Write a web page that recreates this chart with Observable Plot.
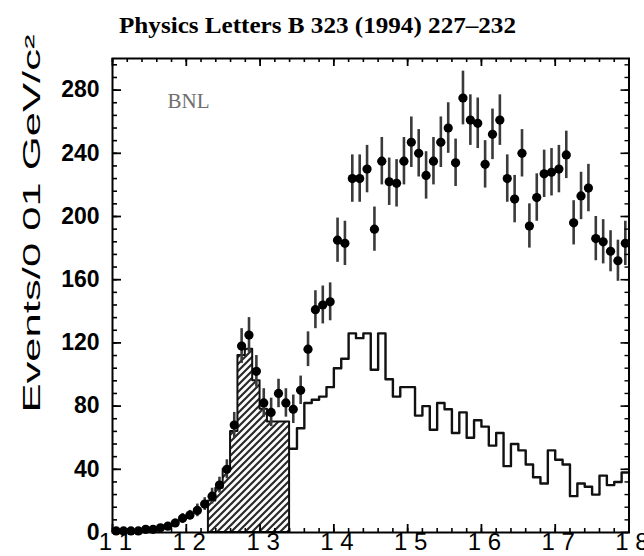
<!DOCTYPE html>
<html>
<head>
<meta charset="utf-8">
<script src="https://cdn.jsdelivr.net/npm/d3@7"></script>
<script src="https://cdn.jsdelivr.net/npm/@observablehq/plot@0.6"></script>
<style>
  html, body { margin: 0; padding: 0; background: #fff; }
  #chart svg { display: block; }
</style>
</head>
<body>
<div id="chart"></div>
<script>
// Invariant mass bins (GeV/c^2), bin centres, 0.01 GeV wide
const masses = [
  1.105, 1.115, 1.125, 1.135, 1.145, 1.155, 1.165, 1.175, 1.185, 1.195,
  1.205, 1.215, 1.225, 1.235, 1.245, 1.255, 1.265, 1.275, 1.285, 1.295,
  1.305, 1.315, 1.325, 1.335, 1.345, 1.355, 1.365, 1.375, 1.385, 1.395,
  1.405, 1.415, 1.425, 1.435, 1.445, 1.455, 1.465, 1.475, 1.485, 1.495,
  1.505, 1.515, 1.525, 1.535, 1.545, 1.555, 1.565, 1.575, 1.585, 1.595,
  1.605, 1.615, 1.625, 1.635, 1.645, 1.655, 1.665, 1.675, 1.685, 1.695,
  1.705, 1.715, 1.725, 1.735, 1.745, 1.755, 1.765, 1.775, 1.785, 1.795
];
// Measured events per bin
const events = [
    1,   1,   1,   1,   2,   2,   3,   4,   6,   9,
   11,  14,  18,  23,  30,  40,  68, 118, 125, 102,
   82,  76,  88,  82,  78,  90, 116, 141, 144, 146,
  185, 183, 224, 224, 230, 192, 235, 222, 221, 235,
  247, 240, 226, 235, 247, 256, 234, 275, 261, 259,
  233, 252, 261, 224, 211, 240, 194, 212, 227, 228,
  230, 239, 196, 213, 218, 186, 184, 178, 172, 183
];
// Statistical error per bin
const errors = [
    1,   1,   1,   1, 1.5, 1.5,   2,   2, 2.5,   3,
    3,   4,   4,   5,   5,   6,   8,  11,  11,  10,
    9,   9,   9,   9,   9,   9,  11,  12,  12,  12,
   14,  14,  15,  15,  15,  14,  15,  15,  15,  15,
   16,  15,  15,  15,  16,  16,  15,  17,  16,  16,
   15,  16,  16,  15,  15,  15,  14,  15,  15,  15,
   15,  15,  14,  15,  15,  14,  14,  13,  13,  14
];

// Shaded histogram (1.23 - 1.34 GeV)
const shadedMasses = [1.235, 1.245, 1.255, 1.265, 1.275, 1.285, 1.295, 1.305, 1.315, 1.325, 1.335];
const shadedCounts = [20, 28, 40, 64, 112, 116, 96, 78, 70, 70, 70];

// Open histogram (1.34 - 1.80 GeV)
const openMasses = [
  1.345, 1.355, 1.365, 1.375, 1.385, 1.395, 1.405, 1.415, 1.425, 1.435,
  1.445, 1.455, 1.465, 1.475, 1.485, 1.495, 1.505, 1.515, 1.525, 1.535,
  1.545, 1.555, 1.565, 1.575, 1.585, 1.595, 1.605, 1.615, 1.625, 1.635,
  1.645, 1.655, 1.665, 1.675, 1.685, 1.695, 1.705, 1.715, 1.725, 1.735,
  1.745, 1.755, 1.765, 1.775, 1.785, 1.795
];
const openCounts = [
   53,  66,  82,  84,  86,  92, 104, 110, 126, 123,
  126, 103, 126,  97,  86,  92,  92,  74,  80,  65,
   82,  78,  63,  76,  60,  71,  67,  55,  63,  42,
   56,  52,  43,  35,  31,  52,  46,  43,  23,  31,
   29,  24,  36,  30,  32,  38
];

// Axis ticks and labels
const xTickValues = [1.1, 1.2, 1.3, 1.4, 1.5, 1.6, 1.7, 1.8];
const xTickLabels = ["1 1", "1 2", "1 3", "1 4", "1 5", "1 6", "1 7", "1 8"];
const yTickValues = [0, 40, 80, 120, 160, 200, 240, 280];
const yTickLabels = ["0", "40", "80", "120", "160", "200", "240", "280"];

const titleText = "Physics Letters B 323 (1994) 227\u2013232";
const yLabelText = "Events/0 01 GeV/c\u00B2";
const experimentText = "BNL";

const halfBin = 0.005;

const points = masses.map((m, i) => ({m, n: events[i], e: errors[i]}));

// Step outlines: value held from each lower edge, closed at the last upper edge
function steps(centres, counts) {
  const s = centres.map((c, i) => ({x: c - halfBin, y: counts[i]}));
  s.push({x: centres[centres.length - 1] + halfBin, y: counts[counts.length - 1]});
  return s;
}
const shadedSteps = steps(shadedMasses, shadedCounts);
const openSteps = steps(openMasses, openCounts);

const W = 644, H = 556;
const mL = 112, mR = 15.5, mT = 58, mB = 24;
const innerW = W - mL - mR, innerH = H - mT - mB;

const xMinor = d3.range(1.1, 1.8001, 0.02);
const yMinor = d3.range(0, 300, 8);

const chart = Plot.plot({
  width: W,
  height: H,
  marginLeft: mL,
  marginRight: mR,
  marginTop: mT,
  marginBottom: mB,
  style: {fontFamily: "'Liberation Sans', Arial, sans-serif", background: "#fff", color: "#000"},
  x: {domain: [1.1, 1.8], axis: null},
  y: {domain: [0, 300], axis: null},
  marks: [
    // shaded histogram
    Plot.areaY(shadedSteps, {x: "x", y: "y", curve: "step-after", fill: "url(#hatch)", stroke: "#111", strokeWidth: 2}),
    // open histogram
    Plot.lineY(openSteps, {x: "x", y: "y", curve: "step-after", stroke: "#111", strokeWidth: 2.4}),
    // data points with error bars
    Plot.ruleX(points, {x: "m", y1: d => d.n - d.e, y2: d => d.n + d.e, stroke: "#3a3a3a", strokeWidth: 2.6}),
    Plot.ruleY(points, {y: "n", x1: d => d.m - halfBin, x2: d => d.m + halfBin, stroke: "#111", strokeWidth: 3}),
    Plot.dot(points, {x: "m", y: "n", r: 4.6, fill: "#000", stroke: "none"}),
    // frame and inward ticks on all four sides
    Plot.frame({stroke: "#000", strokeWidth: 2}),
    Plot.ruleX(xMinor, {x: d => d, insetTop: innerH - 4, strokeWidth: 1.6}),
    Plot.ruleX(xTickValues, {x: d => d, insetTop: innerH - 8, strokeWidth: 1.8}),
    Plot.ruleX(xMinor, {x: d => d, insetBottom: innerH - 4, strokeWidth: 1.6}),
    Plot.ruleX(xTickValues, {x: d => d, insetBottom: innerH - 8, strokeWidth: 1.8}),
    Plot.ruleY(yMinor, {y: d => d, insetRight: innerW - 5, strokeWidth: 1.6}),
    Plot.ruleY(yTickValues, {y: d => d, insetRight: innerW - 9, strokeWidth: 1.8}),
    Plot.ruleY(yMinor, {y: d => d, insetLeft: innerW - 4, strokeWidth: 1.4}),
    Plot.ruleY(yTickValues, {y: d => d, insetLeft: innerW - 8, strokeWidth: 1.6}),
    // tick labels
    Plot.text(xTickValues, {x: d => d, text: (d, i) => xTickLabels[i], frameAnchor: "bottom", lineAnchor: "top", dx: 3, dy: 0, fontSize: 24, fill: "#000"}),
    Plot.text(yTickValues, {y: d => d, text: (d, i) => yTickLabels[i], frameAnchor: "left", textAnchor: "end", dx: -13, fontSize: 23, fontWeight: "bold", fill: "#000"}),
    // axis title, journal reference and experiment label
    Plot.text([yLabelText], {text: d => d, frameAnchor: "left", rotate: -90, fontSize: 23, fill: "#000"}),
    Plot.text([titleText], {text: d => d, frameAnchor: "top", fontSize: 24, fontWeight: "bold", fontFamily: "'Liberation Serif', 'Times New Roman', serif", fill: "#000"}),
    Plot.text([experimentText], {text: d => d, frameAnchor: "top-left", dx: 55, dy: 49, textAnchor: "start", lineAnchor: "bottom", fontSize: 21, fontFamily: "'Liberation Serif', 'Times New Roman', serif", fill: "#6f6f6f"})
  ]
});

// hatch pattern for the shaded histogram
const svg = d3.select(chart);
svg.insert("defs", ":first-child").html(
  '<pattern id="hatch" patternUnits="userSpaceOnUse" width="7" height="7">' +
  '<rect width="7" height="7" fill="#fff"/>' +
  '<path d="M-1,1 l2,-2 M0,7 l7,-7 M6,8 l2,-2" stroke="#2a2a2a" stroke-width="2.2"/>' +
  '</pattern>'
);

// place the long texts and stretch them to their printed length
function placeText(content, x, y, rotate, length) {
  svg.selectAll("text")
    .filter(function () { return this.textContent === content; })
    .attr("transform", `translate(${x},${y})` + (rotate ? ` rotate(${rotate})` : ""))
    .attr("x", null).attr("y", null).attr("dy", null)
    .attr("text-anchor", "middle")
    .attr("textLength", length)
    .attr("lengthAdjust", "spacingAndGlyphs");
}
placeText(yLabelText, 39, 223, -90, 378);
placeText(titleText, 317, 32, 0, 397);

document.getElementById("chart").appendChild(chart);
</script>
</body>
</html>
